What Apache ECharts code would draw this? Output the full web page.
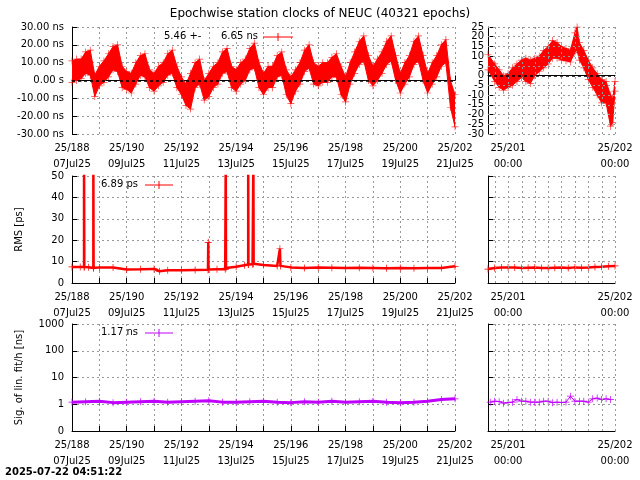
<!DOCTYPE html>
<html><head><meta charset="utf-8">
<script src="https://cdn.jsdelivr.net/npm/echarts@6/dist/echarts.min.js"></script>
<style>body{margin:0}#c{width:640px;height:480px}</style></head>
<body><div id="c"></div>
<script>
// clock offsets, ns: band top/bottom every 4 hours from 25/188 00:00
const clkHi = [11,12,12,16,17,3, 8,11,15,19,20,8, 5,4,10,14,15,6, 4,8,10,15,17,8, 2,-2,4,10,12,0,
  4,8,10,16,18,8, 6,10,12,18,21,10, 4,8,8,14,16,6, 2,6,10,17,20,10, 8,10,10,13,15,8,
  2,10,16,22,25,14, 8,12,16,22,25,14, 4,10,14,22,25,14, 4,10,14,20,23,0, -8];
const clkLo = [-1,0,1,4,3,-9, -3,-1,2,6,5,-4, -5,-7,-2,3,2,-4, -6,-3,-1,3,4,-4, -8,-14,-16,-4,-2,-11,
  -9,-4,-2,4,5,-4, -6,-2,0,6,7,-4, -8,-4,-4,2,3,-8, -13,-6,-2,5,7,-2, -3,-1,-1,2,2,-8,
  -12,-2,4,9,11,0, -3,0,4,9,11,0, -7,-2,2,9,11,0, -7,-2,2,8,10,-15, -26];
// zoomed panel, hours from 25/201 00:00
const zHours = [-4.5,-3,-2,-1,0,1,2,3,4,5,6,7,8,9,10,11,12,13,14,15,15.5,16,17,18,19,20,21,22,23,23.5,24];
const zHi = [11,6,3,0,1,4,6,8,9,8,9,10,13,15,18,17,15,14,13,22,25,17,13,8,4,1,-2,-3,-10,-12,-3];
const zLo = [3,-3,-6,-7.5,-6,-5,-3,-1,-3,-4,0,2,4,6,9,9,8,7.6,7,12,13,8,4,-2,-6,-10,-14,-14,-26,-24,-8];
const zTicks = [25,20,15,10,5,0,-5,-10,-15,-20,-25,-30];
// RMS, ps
const rmsDays = [188,188.3,188.44,188.44,188.45,188.6,188.78,188.78,188.79,189,189.5,190,190.5,191,191.2,191.5,192,192.5,192.97,192.98,192.99,193.3,193.6,193.62,193.63,194,194.3,194.44,194.44,194.45,194.6,194.63,194.64,195,195.5,195.6,195.62,196,196.5,197,197.5,198,198.5,199,199.5,200,200.5,201,201.5,202];
const rmsVals = [7.5,7.5,7.5,60,7.5,7.4,7,60,7,7.3,7.2,6.3,6.4,6.6,5.5,6,6,6.1,6.2,19,6.3,6.4,6.4,60,7,7.6,8.3,8.6,60,8.6,8.8,60,9,8.4,8,16,8,7.3,7,7.2,7.1,7,7.1,7,6.9,7,6.9,7,7,7.8];
const zRmsHours = [-4.5,-3,-1.5,0,1.5,3,4.5,6,7.5,9,10.5,12,13.5,15,16.5,18,19.5,21,22.5,24];
const zRms = [6.5,7,7.2,7.3,7.2,7,7.1,7.2,7,7,7.1,7.2,7,7.3,7.1,7.2,7.5,7.6,7.8,8];
// sigma of linear fit, ns, every 12 hours
const sigVals = [1.2,1.25,1.3,1.15,1.2,1.25,1.3,1.2,1.25,1.3,1.35,1.2,1.2,1.25,1.3,1.2,1.15,1.25,1.2,1.3,1.2,1.25,1.3,1.2,1.15,1.2,1.3,1.5,1.6];
const zSigHours = [-4,-3,-2,-1,0,1,2,3,4,5,6,7,8,9,10,11,12,13,14,15,16,17,18,19,20,21,22,23];
const zSig = [1.2,1.3,1.25,1.1,1.15,1.2,1.5,1.3,1.3,1.2,1.2,1.2,1.3,1.3,1.15,1.2,1.15,1.2,2.0,1.3,1.3,1.3,1.2,1.6,1.7,1.5,1.6,1.5];
// vertical grid lines of the zoomed panels, every 3 hours
const zGridHours = [-3,0,3,6,9,12,15,18,21,24];

const RED = '#ff0000', VIO = '#c000ff';
const FONT = 'DejaVu Sans';
const plus = 'path://M0,4.5h10v1h-10zM4.5,0h1v10h-1z';
const mon = ['Jan','Feb','Mar','Apr','May','Jun','Jul','Aug','Sep','Oct','Nov','Dec'];
function dayLabel(v) {
  const d = new Date(Date.UTC(2025, 0, 1) + (Math.round(v) - 1) * 86400000);
  return '25/' + Math.round(v) + '\n' + String(d.getUTCDate()).padStart(2, '0') + mon[d.getUTCMonth()] + '25';
}
const tops = [27, 176, 324];
const grids = [], xAxes = [], yAxes = [];
const gridStyle = {color: '#999', type: [2, 3], width: 1};
const split = {show: true, lineStyle: gridStyle};
const lab = {color: '#000', fontFamily: FONT, fontSize: 10};
tops.forEach((t, r) => {
  grids.push({left: 72, width: 383, top: t, height: 107});
  grids.push({left: 488, width: 127, top: t, height: 107});
  xAxes.push({gridIndex: 2 * r, type: 'value', min: 188, max: 202, interval: 1,
    axisLine: {lineStyle: {color: '#000'}}, axisTick: {inside: true, lineStyle: {color: '#000'}},
    splitLine: split,
    axisLabel: Object.assign({}, lab, {margin: 6, lineHeight: 16, showMinLabel: true, showMaxLabel: true,
      formatter: v => (Math.round(v) % 2 === 0 ? dayLabel(v) : '')})});
  xAxes.push({gridIndex: 2 * r + 1, type: 'value', min: 200.8125, max: 202, interval: 0.0625,
    axisLine: {lineStyle: {color: '#000'}}, axisTick: {show: false},
    splitLine: {show: false},
    axisLabel: Object.assign({}, lab, {margin: 6, lineHeight: 16, showMaxLabel: true, hideOverlap: false,
      formatter: v => (Math.abs(v - Math.round(v)) < 1e-6 ? '25/' + Math.round(v) + '\n00:00' : '')})});
});
const yBase = {axisLine: {show: true, lineStyle: {color: '#000'}}, axisTick: {inside: true, lineStyle: {color: '#000'}}, splitLine: split};
yAxes.push(Object.assign({gridIndex: 0, type: 'value', min: -30, max: 30, interval: 10,
  axisLabel: Object.assign({}, lab, {formatter: v => (v === 0 ? '0.00 s' : v.toFixed(2) + ' ns')})}, yBase));
yAxes.push(Object.assign({gridIndex: 1, type: 'value', min: -30, max: 25, interval: 5,
  axisLabel: {show: false}}, yBase, {splitLine: {show: false}}));
yAxes.push(Object.assign({gridIndex: 2, type: 'value', min: 0, max: 50, interval: 10,
  name: 'RMS [ps]', nameLocation: 'middle', nameGap: 48, nameTextStyle: lab, axisLabel: lab}, yBase));
yAxes.push(Object.assign({gridIndex: 3, type: 'value', min: 0, max: 50, interval: 10, axisLabel: {show: false}}, yBase));
yAxes.push(Object.assign({gridIndex: 4, type: 'log', logBase: 10, min: 0.1, max: 1000,
  name: 'Sig. of lin. fit/h [ns]', nameLocation: 'middle', nameGap: 48, nameTextStyle: lab,
  axisLabel: Object.assign({}, lab, {formatter: v => (v < 0.5 ? '0' : String(Math.round(v)))})}, yBase));
yAxes.push(Object.assign({gridIndex: 5, type: 'log', logBase: 10, min: 0.1, max: 1000, axisLabel: {show: false}}, yBase));

const clkDays = clkHi.map((_, i) => 188 + i / 6);
const zDays = zHours.map(h => 201 + h / 24);

function band(xi, days, hi, lo) {
  const data = days.map((d, i) => [d, hi[i], lo[i]]);
  return [{
    type: 'custom', xAxisIndex: xi, yAxisIndex: xi, clip: true, data: data, z: 3,
    renderItem: function (params, api) {
      if (params.dataIndex !== 0) return null;
      const pts = [];
      data.forEach(p => pts.push(api.coord([p[0], p[1]])));
      for (let i = data.length - 1; i >= 0; i--) pts.push(api.coord([data[i][0], data[i][2]]));
      return {type: 'polygon', shape: {points: pts}, style: {fill: RED, stroke: RED, lineWidth: 1}};
    }
  }, {
    type: 'scatter', xAxisIndex: xi, yAxisIndex: xi, symbol: plus, symbolSize: 7, clip: true, z: 4,
    itemStyle: {color: RED}, data: data.map(p => [p[0], p[1]]).concat(data.map(p => [p[0], p[2]]))
  }];
}
function zeroLine() {
  return {silent: true, symbol: 'none', label: {show: false},
    lineStyle: {color: '#000', type: [3, 3], width: 1.5}, data: [{yAxis: 0}]};
}
function zGrid(i, horiz) {
  const d = zGridHours.map(h => ({xAxis: 201 + h / 24}));
  if (horiz) zTicks.forEach(v => { if (v !== 0) d.push({yAxis: v}); });
  return {type: 'line', xAxisIndex: i, yAxisIndex: i, data: [], z: 1,
    markLine: {silent: true, symbol: 'none', label: {show: false}, lineStyle: gridStyle, data: d}};
}

const series = [].concat(
  band(0, clkDays, clkHi, clkLo),
  band(1, zDays, zHi, zLo),
  [zGrid(1, true), zGrid(3), zGrid(5)],
  [
    {type: 'line', xAxisIndex: 0, yAxisIndex: 0, data: [], markLine: zeroLine()},
    {type: 'line', xAxisIndex: 1, yAxisIndex: 1, data: [], z: 2, markLine: zeroLine()},
    {type: 'line', xAxisIndex: 2, yAxisIndex: 2, clip: true, symbol: plus, symbolSize: 7,
      lineStyle: {color: RED, width: 2.5}, itemStyle: {color: RED},
      data: rmsDays.map((d, i) => [d, rmsVals[i]])},
    {type: 'line', xAxisIndex: 3, yAxisIndex: 3, clip: true, symbol: plus, symbolSize: 7,
      lineStyle: {color: RED, width: 2.5}, itemStyle: {color: RED},
      data: zRmsHours.map((h, i) => [201 + h / 24, zRms[i]])},
    {type: 'line', xAxisIndex: 4, yAxisIndex: 4, clip: true, symbol: plus, symbolSize: 7,
      lineStyle: {color: VIO, width: 3}, itemStyle: {color: VIO},
      data: sigVals.map((v, i) => [188 + i / 2, v])},
    {type: 'line', xAxisIndex: 5, yAxisIndex: 5, clip: true, symbol: plus, symbolSize: 7,
      lineStyle: {color: VIO, width: 1}, itemStyle: {color: VIO},
      data: zSigHours.map((h, i) => [201 + h / 24, zSig[i]])}
  ]
);

function legend(x, y, txt, x1, x2, col) {
  return [
    {type: 'text', left: x, top: y - 6, style: {text: txt, fill: '#000', font: '10px ' + FONT}},
    {type: 'line', shape: {x1: x1, y1: y, x2: x2, y2: y}, style: {stroke: col, lineWidth: 1}},
    {type: 'line', shape: {x1: (x1 + x2) / 2, y1: y - 4, x2: (x1 + x2) / 2, y2: y + 4}, style: {stroke: col, lineWidth: 1}}
  ];
}

const chart = echarts.init(document.getElementById('c'));
chart.setOption({
  animation: false,
  backgroundColor: '#fff',
  title: {text: 'Epochwise station clocks of NEUC (40321 epochs)', left: 'center', top: 3,
    textStyle: {fontFamily: FONT, fontSize: 12, fontWeight: 'normal', color: '#000'}},
  grid: grids, xAxis: xAxes, yAxis: yAxes, series: series
});
// tick labels of the zoomed clock panel, placed through its y axis
const zLabels = zTicks.map(v => {
  const p = chart.convertToPixel({xAxisIndex: 1, yAxisIndex: 1}, [200.8125, v]);
  return {type: 'text', x: p[0] - 4, y: p[1], style: {text: String(v), fill: '#000', font: '10px ' + FONT,
    align: 'right', verticalAlign: 'middle'}};
});
chart.setOption({graphic: [].concat(
  [{type: 'text', left: 164, top: 31, style: {text: '5.46 +-', fill: '#000', font: '10px ' + FONT}}],
  legend(221, 37, '6.65 ns', 263, 293, RED),
  legend(101, 185, '6.89 ps', 145, 173, RED),
  legend(101, 333, '1.17 ns', 145, 173, VIO),
  [{type: 'text', left: 5, top: 467, style: {text: '2025-07-22 04:51:22', fill: '#000', font: 'bold 10px ' + FONT}}],
  zLabels
)});
</script></body></html>
